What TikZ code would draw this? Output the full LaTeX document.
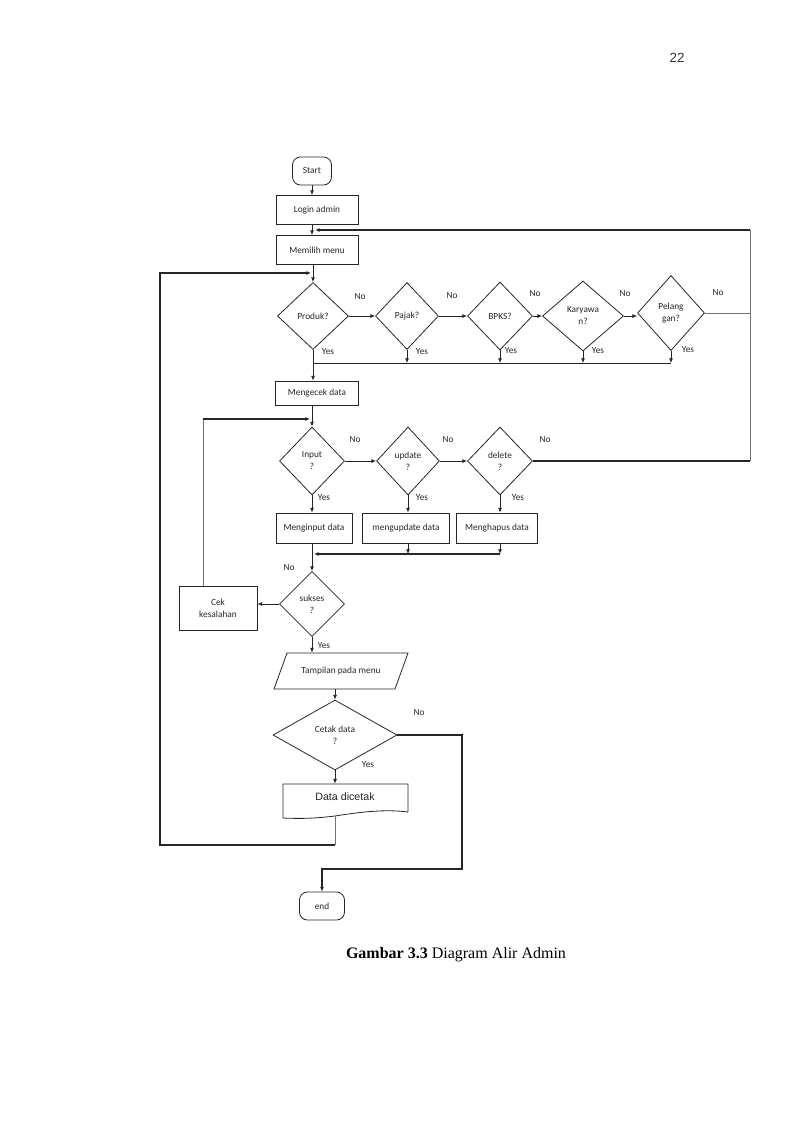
\documentclass[tikz,border=0pt]{standalone}
\usepackage{fontspec}
\setmainfont{Liberation Serif}
\newfontfamily\cf{Carlito}
\newfontfamily\lsans{Liberation Sans}
\usetikzlibrary{shapes.geometric,arrows.meta,calc}
\newcommand\flowfont{\cf\fontsize{7}{9}\selectfont}
\begin{document}
\begin{tikzpicture}[x=0.75pt,y=-0.75pt,
  line width=0.6pt, draw=black!85,
  every node/.style={font=\flowfont, text=black!85},
  box/.style 2 args={draw, rectangle, inner sep=0pt, align=center,
     minimum width=#1*0.75pt, minimum height=#2*0.75pt},
  dia/.style 2 args={draw, diamond, inner sep=0pt, align=center,
     minimum width=#1*0.75pt, minimum height=#2*0.75pt},
  term/.style 2 args={draw, rectangle, rounded corners=6pt, inner sep=0pt,
     minimum width=#1*0.75pt, minimum height=#2*0.75pt},
  arr/.style={-{Latex[length=3.5pt,width=3pt]}},
  heavy/.style={line width=1.1pt},
  faint/.style={line width=0.5pt, draw=black!55},
  lbl/.style={inner sep=0pt, font=\flowfont}]
\useasboundingbox (0,0) rectangle (800,1132);

\node[font=\lsans\fontsize{10}{12}\selectfont, text=black!80] (pg) at (677,58) {22};

% nodes
\node[term={39}{28}] (start) at (312,171) {Start};
\node[box={82}{29}] (login) at (317,210) {Login admin};
\node[box={82}{29}] (memilih) at (317,250) {Memilih menu};
\node[dia={71}{67}] (produk) at (313,316) {Produk?};
\node[dia={63}{67}] (pajak) at (407,316) {Pajak?};
\node[dia={65}{68}] (bpks) at (500,316) {BPKS?};
\node[dia={81}{70}] (karyawan) at (583,316) {Karyawa\\n?};
\node[dia={67}{75}] (pelanggan) at (671,313) {Pelang\\gan?};
\node[box={83}{24}] (mengecek) at (317,393) {Mengecek data};
\node[dia={65}{68}] (input) at (312,461) {Input\\?};
\node[dia={63}{68}] (update) at (408,461) {update\\?};
\node[dia={65}{68}] (delete) at (500,461) {delete\\?};
\node[box={76}{30}] (menginput) at (314,528) {Menginput data};
\node[box={87}{30}] (mengupdate) at (406,528) {mengupdate data};
\node[box={81}{30}] (menghapus) at (497,528) {Menghapus data};
\node[dia={65}{65}] (sukses) at (312,604) {sukses\\?};
\node[box={78}{44}] (cek) at (218,608) {Cek\\kesalahan};
\node[inner sep=0pt, minimum width=121*0.75pt, minimum height=36*0.75pt] (tampilan) at (341,671) {Tampilan pada menu};
\draw (274,689) -- (287,653) -- (408,653) -- (395,689) -- cycle;
\node[dia={124}{70}] (cetak) at (335,735) {Cetak data\\?};
\node[font=\lsans\fontsize{8}{10}\selectfont, inner sep=0pt, minimum width=125*0.75pt, minimum height=26*0.75pt] (dicetak) at (345,797) {Data dicetak};
\draw (408,812) -- (408,784) -- (283,784) -- (283,818)
   .. controls (305,819) and (318,818) .. (335,816)
   .. controls (360,812) and (385,809) .. (408,812);
\node[term={45}{28}] (end) at (322,906) {end};

\node[font=\fontsize{12}{14}\selectfont, text=black] (cap) at (456,955) {\textbf{Gambar 3.3} Diagram Alir Admin};

% helper coordinates
\coordinate (rtop) at (750,230);
\coordinate (rbot) at (750,461);
\coordinate (bus1) at (0,363);
\coordinate (bus2) at (0,554);
\coordinate (cekloop) at (203,419);
\coordinate (nod) at (462,735);
\coordinate (nob) at (462,869);
\coordinate (dcb) at (335,816);
\coordinate (lb) at (160,845);
\coordinate (lt) at (160,273);

% connectors
\draw[arr] (start.south) -- (start.south |- login.north);
\draw[arr] (login.south -| start) -- (memilih.north -| start);
\draw[arr] (memilih.south -| produk) -- (produk.north);
\draw[arr] (produk.east) -- (pajak.west);
\draw[arr] (pajak.east) -- (bpks.west);
\draw[arr] (bpks.east) -- (karyawan.west);
\draw[arr] (karyawan.east) -- (karyawan.east -| pelanggan.west);
\draw[faint] (pelanggan.east) -- (pelanggan.east -| rtop);
\draw[heavy] (delete.east) -- (rbot);
\draw[faint] (rbot) -- (rtop);
\draw[arr, line width=0.8pt] (rtop) -- ($(rtop -| start)+(3,0)$);

\draw (pelanggan.south |- bus1) -- (produk.south |- bus1);
\draw[arr] (pajak.south) -- (pajak.south |- bus1);
\draw[arr] (bpks.south) -- (bpks.south |- bus1);
\draw[arr] (karyawan.south) -- (karyawan.south |- bus1);
\draw[arr] (pelanggan.south) -- (pelanggan.south |- bus1);
\draw[arr] (produk.south) -- (produk.south |- mengecek.north);

\draw[arr] (mengecek.south -| input) -- (input.north);
\draw[arr] (input.east) -- (update.west);
\draw[arr] (update.east) -- (delete.west);
\draw[arr] (input.south) -- (input.south |- menginput.north);
\draw[arr] (update.south) -- (update.south |- mengupdate.north);
\draw[arr] (delete.south) -- (delete.south |- menghapus.north);
\draw[arr] (update.south |- mengupdate.south) -- (update.south |- bus2);
\draw[arr] (delete.south |- menghapus.south) -- (delete.south |- bus2);
\draw[arr, line width=0.9pt] (delete.south |- bus2) -- ($(input.south |- bus2)+(2,0)$);
\draw[arr] (input.south |- menginput.south) -- (sukses.north);

\draw[arr] (sukses.west) -- (sukses.west -| cek.east);
\draw[faint] (cek.north -| cekloop) -- (cekloop);
\draw[arr, line width=0.8pt] (cekloop) -- ($(cekloop -| input)+(-2,0)$);
\draw[arr] (sukses.south) -- (sukses.south |- tampilan.north);
\draw[arr] (tampilan.south -| cetak) -- (cetak.north);
\draw[arr] (cetak.south) -- (dicetak.north -| cetak);
\draw[line width=0.9pt] (cetak.east) -- (nod);
\fill (nod) circle (1.3);
\draw[arr, line width=0.8pt] (nod) -- (nob) -| (end.north);
\draw[faint] (dcb) -- (dcb |- lb);
\draw[arr, line width=0.9pt] (dcb |- lb) -- (lb) -- (lt) -- ($(lt -| produk)+(-2,0)$);
\draw[line width=1.6pt] (250,273) -- ($(lt -| produk)+(-6,0)$);

% labels
\node[lbl] (no1) at (360,297) {No};
\node[lbl] (no2) at (452,296) {No};
\node[lbl] (no3) at (535,294) {No};
\node[lbl] (no4) at (625,294) {No};
\node[lbl] (no5) at (718,293) {No};
\node[lbl] (no6) at (355,440) {No};
\node[lbl] (no7) at (448,440) {No};
\node[lbl] (no8) at (545,440) {No};
\node[lbl] (no9) at (289,568) {No};
\node[lbl] (no10) at (419,713) {No};
\node[lbl] (y1) at (328,352) {Yes};
\node[lbl] (y2) at (422,352) {Yes};
\node[lbl] (y3) at (511,351) {Yes};
\node[lbl] (y4) at (598,351) {Yes};
\node[lbl] (y5) at (688,350) {Yes};
\node[lbl] (y6) at (324,498) {Yes};
\node[lbl] (y7) at (422,498) {Yes};
\node[lbl] (y8) at (518,498) {Yes};
\node[lbl] (y9) at (324,646) {Yes};
\node[lbl] (y10) at (368,765) {Yes};
\end{tikzpicture}
\end{document}
